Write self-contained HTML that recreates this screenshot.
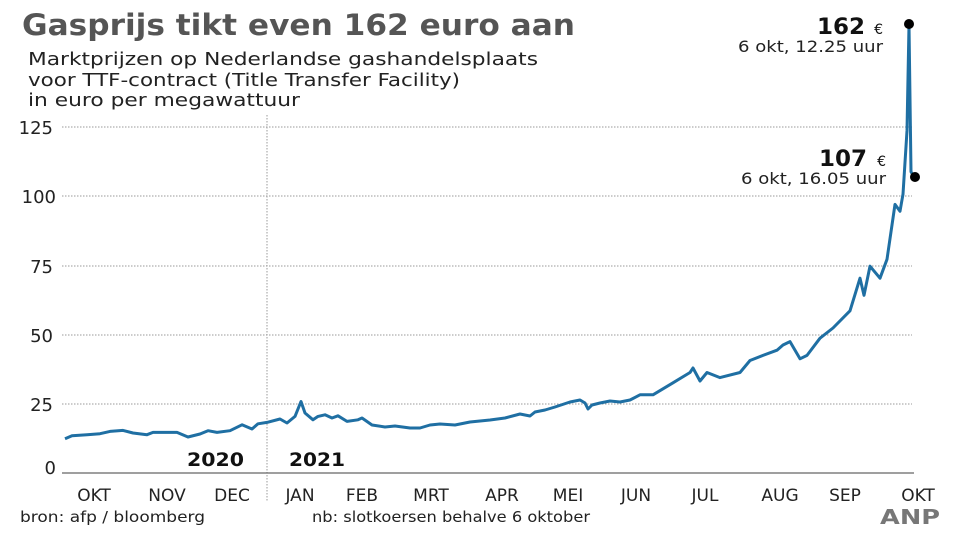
<!DOCTYPE html>
<html><head><meta charset="utf-8"><style>
body{margin:0;background:#fff;width:960px;height:539px;overflow:hidden}
svg{display:block}
text{font-family:"DejaVu Sans","Liberation Sans",sans-serif}
</style></head><body>
<svg width="960" height="539" viewBox="0 0 960 539">
<text x="22" y="35" font-size="29" font-weight="bold" fill="#555" textLength="553" lengthAdjust="spacingAndGlyphs">Gasprijs tikt even 162 euro aan</text>
<text x="28" y="65" font-size="18" fill="#222" textLength="510" lengthAdjust="spacingAndGlyphs">Marktprijzen op Nederlandse gashandelsplaats</text>
<text x="28" y="86" font-size="18" fill="#222" textLength="432" lengthAdjust="spacingAndGlyphs">voor TTF-contract (Title Transfer Facility)</text>
<text x="28" y="106" font-size="18" fill="#222" textLength="272" lengthAdjust="spacingAndGlyphs">in euro per megawattuur</text>
<g stroke="#999" stroke-width="1" stroke-dasharray="1.5,1.5">
<line x1="62" y1="127" x2="912" y2="127"/>
<line x1="62" y1="196" x2="912" y2="196"/>
<line x1="62" y1="266" x2="912" y2="266"/>
<line x1="62" y1="335" x2="912" y2="335"/>
<line x1="62" y1="404" x2="912" y2="404"/>
<line x1="267" y1="115" x2="267" y2="502"/>
</g>
<line x1="62" y1="473" x2="914" y2="473" stroke="#666" stroke-width="1.2"/>
<g font-size="18" fill="#222" text-anchor="end">
<text x="53" y="134">125</text><text x="56" y="203">100</text><text x="53" y="273">75</text>
<text x="53" y="342">50</text><text x="53" y="411">25</text><text x="56" y="474">0</text>
</g>
<text x="187" y="466" font-size="19" font-weight="bold" fill="#111" textLength="57" lengthAdjust="spacingAndGlyphs">2020</text>
<text x="289" y="466" font-size="19" font-weight="bold" fill="#111" textLength="56" lengthAdjust="spacingAndGlyphs">2021</text>
<g font-size="17" fill="#222" text-anchor="middle">
<text x="94" y="501">OKT</text><text x="167" y="501">NOV</text><text x="232" y="501">DEC</text>
<text x="300" y="501">JAN</text><text x="362" y="501">FEB</text><text x="431" y="501">MRT</text>
<text x="502" y="501">APR</text><text x="568" y="501">MEI</text><text x="636" y="501">JUN</text>
<text x="705" y="501">JUL</text><text x="780" y="501">AUG</text><text x="845" y="501">SEP</text>
<text x="918" y="501">OKT</text>
</g>
<text x="20" y="522" font-size="15" fill="#222" textLength="185" lengthAdjust="spacingAndGlyphs">bron:  afp / bloomberg</text>
<text x="312" y="522" font-size="15" fill="#222" textLength="278" lengthAdjust="spacingAndGlyphs">nb: slotkoersen behalve 6 oktober</text>
<text x="880" y="524" font-size="20" font-weight="bold" fill="#777" textLength="60" lengthAdjust="spacingAndGlyphs">ANP</text>
<polyline fill="none" stroke="#1f6fa3" stroke-width="3" stroke-linejoin="round" points="65,438.7 72,435.7 87,434.7 100,433.7 110,431.4 123,430.4 133,433 147,434.7 153,432.4 177,432.4 188,437 200,434 208,430.7 217,432.4 230,430.7 242,424.8 252,429 258,423.8 267,422.4 280,419 287,423 295,416.4 301,401.5 305,413 313,419.8 318,416.4 325,414.8 332,418 338,415.8 347,421.4 358,419.8 362,418 372,425 385,427 395,426 410,428 420,428 430,425 440,424 455,425 470,422 490,420 505,418 520,414 530,416 535,412 545,410 555,407 570,402 580,400 585,403 588,409 592,405 600,403 610,401 620,402 630,400 640,394.8 653,394.8 673,382.8 690,372.5 693,368 700,381 707,372.5 720,377.6 740,372.5 750,360.5 763,355.4 777,350.2 783,345 790,341.6 800,358.8 807,355.4 820,338.2 833,328 850,310.8 860,278.2 864,295.3 870,266.2 880,278.2 887,259.3 895,204.4 900,211.3 903,194.1 907,130.7 909,25 911,171.8 914,177"/>
<circle cx="909" cy="24" r="5" fill="#000"/>
<circle cx="915" cy="177" r="5" fill="#000"/>
<text x="865" y="34" font-size="22" font-weight="bold" fill="#111" text-anchor="end" textLength="48" lengthAdjust="spacingAndGlyphs">162</text>
<text x="883" y="34" font-size="14" fill="#111" text-anchor="end">€</text>
<text x="883" y="52" font-size="16" fill="#222" text-anchor="end" textLength="145" lengthAdjust="spacingAndGlyphs">6 okt, 12.25 uur</text>
<text x="867" y="166" font-size="22" font-weight="bold" fill="#111" text-anchor="end" textLength="48" lengthAdjust="spacingAndGlyphs">107</text>
<text x="886" y="166" font-size="14" fill="#111" text-anchor="end">€</text>
<text x="886" y="184" font-size="16" fill="#222" text-anchor="end" textLength="145" lengthAdjust="spacingAndGlyphs">6 okt, 16.05 uur</text>
</svg>
</body></html>
